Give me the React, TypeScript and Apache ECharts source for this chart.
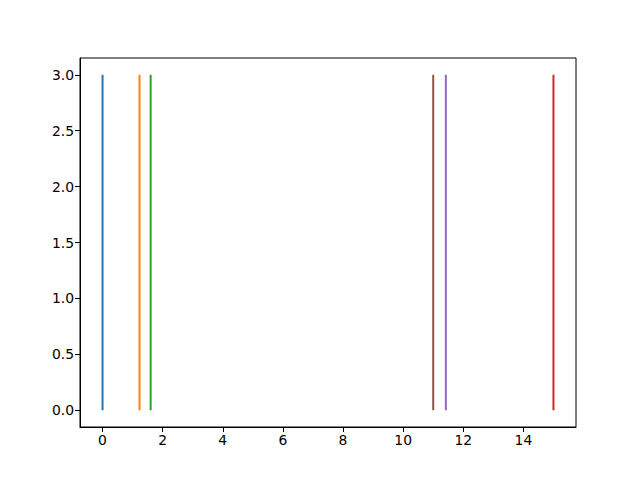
import React, { useEffect, useRef } from "react";
import * as echarts from "echarts";

const lineX = [0, 1.23, 1.6, 15, 11.42, 11];
const lineYMin = [0, 0, 0, 0, 0, 0];
const lineYMax = [3, 3, 3, 3, 3, 3];
const lineColors = ["#1f77b4", "#ff7f0e", "#2ca02c", "#d62728", "#9467bd", "#8c564b"];
const xTicks = [0, 2, 4, 6, 8, 10, 12, 14];
const yTicks = [0, 0.5, 1, 1.5, 2, 2.5, 3];

export default function App() {
  const ref = useRef<HTMLDivElement>(null);
  useEffect(() => {
    document.body.style.margin = "0";
    const chart = echarts.init(ref.current!, null, { renderer: "svg" });
    const font = { fontFamily: "DejaVu Sans", fontSize: 13.9, color: "#000" };
    chart.setOption({
      animation: false,
      backgroundColor: "#fff",
      grid: {
        left: 80,
        right: 64,
        top: 58,
        bottom: 53,
        show: true,
        borderColor: "#000",
        borderWidth: 1,
        containLabel: false,
      },
      xAxis: {
        type: "value",
        min: -0.75,
        max: 15.75,
        axisLine: { show: true, onZero: false, lineStyle: { color: "#000", width: 1 } },
        axisTick: { show: true, length: 5, customValues: xTicks, lineStyle: { color: "#000", width: 1 } },
        axisLabel: { ...font, margin: 6, customValues: xTicks, formatter: (v: number) => String(v) },
        splitLine: { show: false },
      },
      yAxis: {
        type: "value",
        min: -0.15,
        max: 3.15,
        axisLine: { show: true, onZero: false, lineStyle: { color: "#000", width: 1 } },
        axisTick: { show: true, length: 5, customValues: yTicks, lineStyle: { color: "#000", width: 1 } },
        axisLabel: { ...font, margin: 6, customValues: yTicks, formatter: (v: number) => v.toFixed(1) },
        splitLine: { show: false },
      },
      series: lineX.map((x, i) => ({
        type: "line",
        data: [
          [x, lineYMin[i]],
          [x, lineYMax[i]],
        ],
        showSymbol: false,
        symbol: "none",
        lineStyle: { color: lineColors[i], width: 2 },
        itemStyle: { color: lineColors[i] },
      })),
    });
    return () => chart.dispose();
  }, []);
  return (
    <div
      ref={ref}
      style={{ width: 640, height: 480, position: "absolute", left: 0, top: 0 }}
    />
  );
}
